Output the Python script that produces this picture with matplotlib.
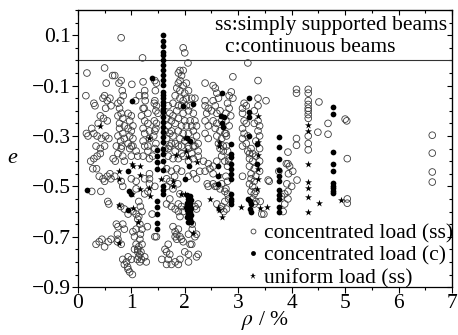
import matplotlib
matplotlib.use('Agg')
import matplotlib.pyplot as plt
from matplotlib.ticker import MultipleLocator, FixedLocator
from matplotlib.lines import Line2D

# concentrated load, simply supported beams (rho %, e)
conc_ss = [
    # rho < 0.7
    (0.17, -0.05), (0.15, -0.14), (0.30, -0.17), (0.32, -0.18), (0.26, -0.27), (0.16, -0.29),
    (0.19, -0.30), (0.50, -0.03), (0.53, -0.09), (0.65, -0.06), (0.50, -0.14), (0.55, -0.16),
    (0.60, -0.15), (0.52, -0.19), (0.62, -0.18), (0.47, -0.15), (0.42, -0.22), (0.48, -0.23),
    (0.55, -0.24), (0.38, -0.25), (0.30, -0.29), (0.36, -0.30), (0.44, -0.31), (0.52, -0.30),
    (0.58, -0.31), (0.34, -0.34), (0.42, -0.35), (0.50, -0.34), (0.24, -0.40), (0.30, -0.39),
    (0.36, -0.38), (0.42, -0.37), (0.28, -0.43), (0.35, -0.43), (0.40, -0.46), (0.47, -0.47),
    (0.55, -0.46), (0.60, -0.45), (0.50, -0.48), (0.43, -0.52), (0.26, -0.52), (0.58, -0.57),
    (0.34, -0.73), (0.40, -0.72), (0.45, -0.71), (0.50, -0.74), (0.57, -0.72), (0.62, -0.71),
    # rho 0.7 - 1.5
    (0.81, 0.09), (1.21, 0.01), (0.69, -0.06), (0.81, -0.08), (0.77, -0.09), (1.01, -0.095),
    (1.22, -0.085), (0.83, -0.12), (0.85, -0.14), (0.80, -0.16), (1.08, -0.16), (1.25, -0.12),
    (1.26, -0.16), (1.24, -0.19), (0.75, -0.17), (0.78, -0.19), (0.81, -0.21), (0.75, -0.22),
    (0.84, -0.23), (0.78, -0.25), (0.87, -0.26), (0.78, -0.27), (0.84, -0.29), (0.75, -0.30),
    (0.87, -0.31), (0.80, -0.32), (0.82, -0.34), (0.94, -0.21), (1.00, -0.22), (0.97, -0.24),
    (1.03, -0.26), (0.94, -0.27), (1.00, -0.28), (0.97, -0.30), (1.03, -0.31), (0.94, -0.33),
    (1.00, -0.34), (0.97, -0.35), (1.15, -0.14), (1.25, -0.14), (1.22, -0.19), (1.31, -0.21),
    (1.19, -0.22), (1.25, -0.24), (1.31, -0.25), (1.22, -0.27), (1.34, -0.28), (1.25, -0.29),
    (1.34, -0.31), (1.22, -0.32), (1.31, -0.34), (1.44, -0.08), (1.45, -0.12), (1.43, -0.17),
    (1.46, -0.20), (1.43, -0.24), (1.46, -0.27), (1.42, -0.30), (1.46, -0.33),
    (0.72, -0.34), (0.81, -0.35), (0.75, -0.37), (0.84, -0.38), (0.66, -0.39), (0.70, -0.40),
    (0.87, -0.40), (1.03, -0.34), (1.09, -0.36), (1.00, -0.38), (1.12, -0.38), (1.25, -0.34),
    (1.31, -0.36), (1.22, -0.38), (1.34, -0.39), (1.44, -0.35), (1.40, -0.38), (0.69, -0.46),
    (0.62, -0.47), (0.81, -0.48), (0.84, -0.50), (1.00, -0.47), (1.09, -0.48), (1.09, -0.51),
    (1.25, -0.47), (1.34, -0.45), (1.34, -0.47), (1.34, -0.49), (1.44, -0.50), (1.31, -0.52),
    (1.25, -0.53), (0.56, -0.56), (0.80, -0.58), (0.87, -0.59), (0.94, -0.61), (1.03, -0.60),
    (1.09, -0.61), (1.12, -0.63), (1.16, -0.65), (1.09, -0.67), (1.03, -0.68), (1.06, -0.70),
    (1.16, -0.71), (1.09, -0.73), (1.12, -0.75), (1.16, -0.77), (0.72, -0.65), (0.75, -0.66),
    (0.84, -0.65), (0.87, -0.67), (0.74, -0.69), (0.75, -0.71), (0.74, -0.72), (0.81, -0.73),
    (1.06, -0.75), (1.12, -0.76), (1.14, -0.78), (1.11, -0.79), (1.16, -0.80), (1.19, -0.79),
    (1.28, -0.80), (1.25, -0.78), (0.84, -0.79), (0.91, -0.80), (0.94, -0.78), (1.00, -0.79),
    (0.87, -0.81), (0.94, -0.83), (0.97, -0.84), (1.02, -0.85), (0.93, -0.82), (1.14, -0.56),
    (1.17, -0.58), (1.20, -0.60), (1.14, -0.62), (1.20, -0.67), (1.17, -0.69), (1.20, -0.73),
    (1.14, -0.74), (1.18, -0.76), (1.39, -0.61), (1.47, -0.70), (1.30, -0.66),
    # rho 1.5 - 2.4
    (1.97, 0.05), (2.00, 0.03), (2.06, -0.01), (1.91, -0.04), (1.97, -0.04), (1.88, -0.05),
    (1.94, -0.06), (1.91, -0.08), (1.88, -0.09), (1.97, -0.10), (2.03, -0.09), (1.85, -0.11),
    (1.91, -0.12), (2.00, -0.13), (2.07, -0.12), (1.82, -0.14), (1.91, -0.15), (1.97, -0.16),
    (2.03, -0.15), (2.13, -0.15), (2.19, -0.15), (1.78, -0.17), (1.88, -0.18), (1.94, -0.18),
    (2.03, -0.18), (2.10, -0.18), (1.85, -0.20), (1.97, -0.21), (2.07, -0.20), (2.16, -0.21),
    (1.78, -0.22), (1.88, -0.23), (2.00, -0.24), (2.10, -0.24), (2.19, -0.24), (1.82, -0.25),
    (1.94, -0.26), (2.03, -0.26), (2.13, -0.26), (2.22, -0.26), (1.75, -0.28), (1.88, -0.28),
    (1.97, -0.29), (2.07, -0.29), (2.16, -0.28), (1.78, -0.30), (1.91, -0.31), (2.00, -0.32),
    (2.13, -0.32), (2.22, -0.30), (1.82, -0.33), (1.94, -0.34), (2.07, -0.34), (2.16, -0.34),
    (2.25, -0.33), (1.47, -0.09), (1.44, -0.16), (1.47, -0.18), (1.50, -0.21), (1.47, -0.25),
    (1.44, -0.28), (1.69, -0.18), (1.72, -0.21), (1.66, -0.23), (1.75, -0.24), (1.69, -0.26),
    (1.63, -0.28), (1.72, -0.29), (1.66, -0.31), (1.75, -0.33), (1.69, -0.35),
    (1.63, -0.35), (1.72, -0.34), (1.82, -0.36), (1.88, -0.34), (1.94, -0.37), (2.07, -0.35),
    (2.13, -0.37), (2.19, -0.34), (2.25, -0.36), (1.69, -0.38), (1.78, -0.39), (1.88, -0.39),
    (1.97, -0.38), (2.07, -0.40), (2.16, -0.39), (2.25, -0.38), (2.35, -0.40), (1.57, -0.42),
    (1.66, -0.43), (1.75, -0.44), (1.85, -0.43), (1.94, -0.44), (2.07, -0.46), (2.16, -0.45),
    (2.22, -0.47), (2.28, -0.44), (1.66, -0.47), (1.72, -0.48), (1.81, -0.46), (1.87, -0.49),
    (1.78, -0.51), (1.66, -0.50), (1.91, -0.53), (1.72, -0.55), (1.66, -0.57), (1.75, -0.58),
    (1.82, -0.59), (1.88, -0.57), (1.88, -0.60), (1.91, -0.62), (1.94, -0.58), (1.97, -0.60),
    (2.19, -0.58), (2.22, -0.59), (2.25, -0.57), (1.78, -0.66), (1.82, -0.68), (1.85, -0.69),
    (1.88, -0.67), (1.82, -0.70), (1.91, -0.70), (1.85, -0.71), (1.94, -0.71), (1.97, -0.72),
    (2.07, -0.69), (2.22, -0.69), (2.13, -0.73), (2.07, -0.77), (2.00, -0.76), (1.69, -0.73),
    (1.63, -0.75), (1.66, -0.76), (1.72, -0.77), (1.69, -0.79), (1.57, -0.79), (1.66, -0.81),
    (1.75, -0.81), (1.82, -0.80), (1.88, -0.81), (1.91, -0.79), (2.07, -0.80), (2.22, -0.78),
    (2.25, -0.77), (1.44, -0.70), (2.14, -0.65), (2.14, -0.67), (2.19, -0.70), (2.10, -0.73),
    # rho 2.3 - 2.9
    (2.38, -0.09), (2.38, -0.16), (2.38, -0.18), (2.44, -0.19), (2.41, -0.21), (2.38, -0.24),
    (2.44, -0.26), (2.38, -0.29), (2.44, -0.31), (2.44, -0.41), (2.53, -0.42), (2.60, -0.40),
    (2.69, -0.38), (2.75, -0.40), (2.82, -0.40), (2.38, -0.44), (2.47, -0.43), (2.53, -0.45),
    (2.44, -0.50), (2.53, -0.49), (2.60, -0.50), (2.66, -0.51), (2.82, -0.55), (2.75, -0.56),
    (2.69, -0.58), (2.78, -0.59), (2.42, -0.49), (2.57, -0.50), (2.69, -0.49), (2.75, -0.52),
    (2.60, -0.57), (2.67, -0.59), (2.73, -0.60), (2.53, -0.10), (2.57, -0.11), (2.60, -0.13),
    (2.63, -0.15), (2.53, -0.16), (2.57, -0.18), (2.50, -0.20), (2.60, -0.21), (2.66, -0.20),
    (2.53, -0.24), (2.60, -0.25), (2.69, -0.24), (2.57, -0.27), (2.66, -0.28), (2.75, -0.29),
    (2.60, -0.30), (2.69, -0.31), (2.78, -0.30), (2.63, -0.33), (2.72, -0.34), (2.78, -0.34),
    (2.90, -0.065), (2.87, -0.125), (2.83, -0.14), (2.90, -0.15), (2.80, -0.17), (2.83, -0.19),
    (2.77, -0.21), (2.86, -0.22), (2.77, -0.24), (2.83, -0.26), (2.77, -0.29), (2.80, -0.36),
    (2.83, -0.39), (2.80, -0.42), (2.77, -0.46), (2.80, -0.48), (2.77, -0.51), (2.80, -0.53),
    (2.66, -0.35), (2.72, -0.36),
    # rho 3.0 - 3.6
    (3.18, -0.01), (3.37, -0.08), (3.11, -0.17), (3.15, -0.18), (3.08, -0.19), (3.08, -0.21),
    (3.11, -0.24), (3.15, -0.25), (3.08, -0.27), (3.11, -0.29), (3.18, -0.30), (3.08, -0.31),
    (3.15, -0.33), (3.08, -0.34), (3.37, -0.15), (3.37, -0.18), (3.30, -0.20), (3.37, -0.24),
    (3.40, -0.26), (3.30, -0.25), (3.37, -0.28), (3.40, -0.30), (3.33, -0.32), (3.40, -0.35),
    (3.52, -0.16), (3.18, -0.36), (3.24, -0.35), (3.21, -0.37), (3.27, -0.37), (3.33, -0.38),
    (3.21, -0.39), (3.27, -0.40), (3.40, -0.40), (3.21, -0.42), (3.30, -0.43), (3.40, -0.44),
    (3.24, -0.45), (3.33, -0.46), (3.24, -0.47), (3.30, -0.48), (3.21, -0.49), (3.27, -0.50),
    (3.33, -0.52), (3.24, -0.52), (3.30, -0.53), (3.27, -0.55), (3.33, -0.56), (3.30, -0.57),
    (3.41, -0.56), (3.44, -0.61), (3.48, -0.61), (3.08, -0.46), (3.58, -0.48), (3.56, -0.475),
    # rho 3.7 - 4.1
    (3.76, -0.44), (3.94, -0.45), (3.91, -0.49), (4.00, -0.50), (4.10, -0.475), (3.81, -0.54),
    (3.84, -0.60), (3.90, -0.41), (3.96, -0.42), (4.02, -0.44), (3.93, -0.52), (3.87, -0.53),
    (3.93, -0.55), (3.87, -0.57), (4.09, -0.115), (4.09, -0.13), (4.09, -0.31), (4.09, -0.337),
    (3.93, -0.364), (3.93, -0.41),
    # rho > 4.2
    (4.31, -0.115), (4.31, -0.13), (4.31, -0.16), (4.31, -0.175), (4.31, -0.19), (4.31, -0.20),
    (4.31, -0.215), (4.31, -0.23), (4.31, -0.30), (4.31, -0.33), (4.31, -0.355),
    (4.51, -0.165), (4.49, -0.285), (4.68, -0.25), (4.68, -0.293), (5.00, -0.233), (5.03, -0.24),
    (5.04, -0.39), (5.04, -0.55), (5.04, -0.567), (6.63, -0.297), (6.63, -0.368), (6.63, -0.443),
    (6.63, -0.483),
]

# concentrated load, continuous beams
conc_c = [
    (0.17, -0.515), (0.94, -0.44), (0.96, -0.52), (1.00, -0.53), (0.94, -0.595), (1.01, -0.16),
    (1.39, -0.07), (1.48, -0.356), (1.48, -0.38), (1.48, -0.404), (1.48, -0.43), (1.48, -0.56),
    (1.48, -0.58), (1.48, -0.61), (1.48, -0.645), (1.48, -0.67),
    (1.59, 0.10), (1.59, 0.078), (1.59, 0.056), (1.59, 0.034), (1.59, 0.021), (1.59, 0.0),
    (1.59, -0.019), (1.59, -0.039), (1.59, -0.059), (1.59, -0.079), (1.59, -0.098),
    (1.59, -0.125), (1.59, -0.138), (1.59, -0.151), (1.59, -0.165), (1.59, -0.178),
    (1.59, -0.191), (1.59, -0.204), (1.59, -0.224), (1.59, -0.244), (1.59, -0.264),
    (1.59, -0.284), (1.59, -0.303), (1.59, -0.323), (1.59, -0.35), (1.59, -0.37), (1.59, -0.40),
    (1.59, -0.436), (1.59, -0.50), (1.59, -0.515), (1.59, -0.53),
    (2.04, -0.535), (2.10, -0.54), (2.06, -0.55), (2.12, -0.555), (2.04, -0.565), (2.10, -0.57),
    (2.06, -0.58), (2.12, -0.585), (2.04, -0.595), (2.10, -0.60), (2.06, -0.61), (2.12, -0.615),
    (2.04, -0.62), (2.10, -0.63), (2.06, -0.64), (2.12, -0.64),
    (2.00, -0.47), (1.97, -0.18), (2.05, -0.31), (2.10, -0.32), (2.15, -0.175), (2.08, -0.42),
    (2.63, -0.42), (2.63, -0.46), (2.63, -0.49), (2.70, -0.13), (2.68, -0.22), (2.73, -0.225),
    (2.70, -0.25), (2.72, -0.265),
    (2.87, -0.33), (2.87, -0.37), (2.87, -0.385), (2.87, -0.41), (2.87, -0.43), (2.87, -0.45),
    (2.87, -0.47), (2.87, -0.53), (2.87, -0.55), (2.87, -0.56), (2.87, -0.57),
    (3.20, -0.15), (3.20, -0.205), (3.20, -0.225), (3.20, -0.30), (3.19, -0.55), (3.22, -0.56),
    (3.24, -0.57), (3.22, -0.59), (3.24, -0.60), (3.35, -0.33), (3.35, -0.41),
    (3.76, -0.305), (3.76, -0.344), (3.76, -0.39), (3.76, -0.435), (3.76, -0.46), (3.76, -0.48),
    (3.76, -0.515), (3.76, -0.535), (3.76, -0.55), (3.76, -0.58), (3.76, -0.60),
    (4.77, -0.186), (4.77, -0.213), (4.77, -0.364), (4.77, -0.41), (4.77, -0.44), (4.77, -0.487),
    (4.77, -0.497), (4.77, -0.507), (4.77, -0.517), (4.77, -0.527),
]

# uniform load, simply supported beams
uniform_ss = [
    (0.41, -0.26), (0.77, -0.44), (0.77, -0.47), (0.77, -0.575), (0.77, -0.725), (1.01, -0.41),
    (1.03, -0.42), (1.16, -0.42), (1.16, -0.455), (1.16, -0.51), (1.01, -0.53), (1.03, -0.585),
    (1.12, -0.64), (1.33, -0.31), (1.33, -0.505), (1.35, -0.54), (1.55, -0.47), (1.78, -0.48),
    (1.78, -0.50), (1.84, -0.376), (1.93, -0.53), (2.00, -0.31), (2.03, -0.36), (2.06, -0.385),
    (2.00, -0.53), (2.00, -0.58), (2.15, -0.685), (2.23, -0.405), (2.47, -0.55), (2.62, -0.585),
    (2.64, -0.325), (2.64, -0.34), (2.64, -0.455), (2.64, -0.594), (2.69, -0.62), (3.05, -0.58),
    (3.37, -0.22), (3.37, -0.325), (3.37, -0.376), (3.37, -0.43), (3.37, -0.47), (3.35, -0.51),
    (3.41, -0.585), (3.54, -0.58), (4.31, -0.257), (4.31, -0.28), (4.31, -0.41), (4.31, -0.483),
    (4.31, -0.507), (4.31, -0.543), (4.31, -0.60), (4.52, -0.567), (4.92, -0.555),
]

series_labels = ['concentrated load (ss)', 'concentrated load (c)', 'uniform load (ss)']

plt.rcParams['font.family'] = ['Liberation Serif', 'DejaVu Serif']
plt.rcParams['mathtext.fontset'] = 'stix'
FS = 15.5

fig = plt.figure(figsize=(4.58, 3.35), dpi=100)
ax = fig.add_axes([0.170, 0.143, 0.817, 0.827])

xs, ys = zip(*conc_ss)
ax.scatter(xs, ys, s=23, facecolors='none', edgecolors='#3c3c3c', linewidths=0.6, zorder=2)
xs, ys = zip(*conc_c)
ax.scatter(xs, ys, s=17, color='black', linewidths=0, zorder=3)
xs, ys = zip(*uniform_ss)
ax.scatter(xs, ys, s=28, marker='*', color='black', linewidths=0, zorder=3)

ax.axhline(0, color='#333333', lw=0.8, zorder=1)

ax.set_xlim(0, 7)
ax.set_ylim(-0.9, 0.2)
ax.xaxis.set_major_locator(MultipleLocator(1))
ax.xaxis.set_minor_locator(MultipleLocator(0.5))
ax.yaxis.set_major_locator(FixedLocator([0.1, -0.1, -0.3, -0.5, -0.7, -0.9]))
ax.yaxis.set_minor_locator(MultipleLocator(0.05))
ax.set_yticklabels(['0.1', '\u22120.1', '\u22120.3', '\u22120.5', '\u22120.7', '\u22120.9'])
ax.tick_params(which='both', direction='out', labelsize=FS, width=0.8, pad=1)
ax.tick_params(which='major', length=4)
ax.tick_params(which='minor', length=2.5)

# inward ticks on the top and right spines
top = ax.secondary_xaxis('top')
top.xaxis.set_major_locator(MultipleLocator(1))
top.xaxis.set_minor_locator(MultipleLocator(0.5))
top.tick_params(which='both', direction='in', labeltop=False, width=0.8)
top.tick_params(which='minor', length=2.5)
right = ax.secondary_yaxis('right')
right.yaxis.set_major_locator(FixedLocator([0.1, -0.1, -0.3, -0.5, -0.7, -0.9]))
right.yaxis.set_minor_locator(MultipleLocator(0.05))
right.tick_params(which='both', direction='in', labelright=False, width=0.8)
right.tick_params(which='minor', length=2.5)

for sp in ax.spines.values():
    sp.set_linewidth(0.9)

ax.set_xlabel('$\\rho$ / %', fontsize=FS, labelpad=-3)
ax.set_ylabel('e', fontsize=16, fontstyle='italic', rotation=0)
ax.yaxis.set_label_coords(-0.175, 0.43)

ax.text(0.366, 0.928, 'ss:simply supported beams', transform=ax.transAxes,
        fontsize=FS, va='baseline', ha='left')
ax.text(0.393, 0.848, 'c:continuous beams', transform=ax.transAxes,
        fontsize=FS, va='baseline', ha='left')

handles = [
    Line2D([], [], ls='none', marker='o', ms=3.5, mfc='none', mec='#3c3c3c', mew=0.6),
    Line2D([], [], ls='none', marker='o', ms=3.5, mfc='black', mec='black', mew=0),
    Line2D([], [], ls='none', marker='*', ms=5, mfc='black', mec='black', mew=0),
]
ax.legend(handles, series_labels, loc='lower right', frameon=False, fontsize=FS,
          handlelength=0.5, handletextpad=0.25, labelspacing=0.1, borderaxespad=-0.15,
          borderpad=0.1)

fig.savefig('out.png', dpi=100)
